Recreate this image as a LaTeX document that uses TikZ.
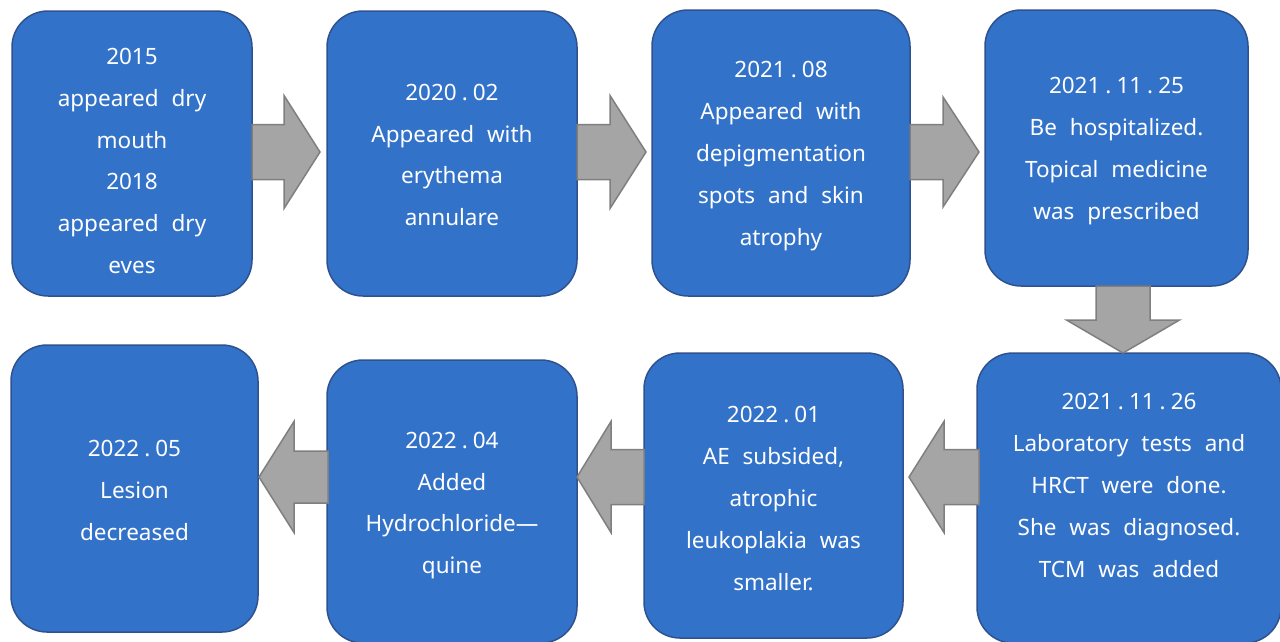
\documentclass[tikz,border=0pt]{standalone}
\usepackage{fontspec}
\setmainfont{Noto Sans}[WordSpace=2.2]
\definecolor{boxfill}{HTML}{3272C9}
\definecolor{boxline}{HTML}{2F528F}
\definecolor{arrfill}{HTML}{A5A5A5}
\definecolor{arrline}{HTML}{7F7F7F}
\newcommand{\pd}{\kern5pt.\kern5pt}
\begin{document}
\begin{tikzpicture}[x=1pt,y=-1pt,
  box/.style={draw=boxline, line width=1.5pt, fill=boxfill, rounded corners=36pt, inner sep=0pt},
  txt/.style={text=white, align=center, font=\fontsize{22.5}{41.8}\selectfont, inner sep=0pt},
  pics/barrow/.style n args={4}{code={
    \draw[draw=arrline, fill=arrfill, line width=1.5pt, line join=miter]
      (0,-#3) -- (#1,-#3) -- (#1,-#4) -- (#2,0) -- (#1,#4) -- (#1,#3) -- (0,#3) -- cycle;}}]
\useasboundingbox (0,0) rectangle (1280,641);
\clip (0,0) rectangle (1280,641);
% boxes
\node[box, minimum width=240pt, minimum height=285pt] (b1) at (132,153.5) {};
\node[box, minimum width=250pt, minimum height=285pt] (b2) at (452,153.5) {};
\node[box, minimum width=258pt, minimum height=286pt] (b3) at (781,153) {};
\node[box, minimum width=263pt, minimum height=276pt] (b4) at (1116.5,148) {};
\node[box, minimum width=304pt, minimum height=290pt] (b5) at (1129,498) {};
\node[box, minimum width=259pt, minimum height=285pt] (b6) at (773.5,495.5) {};
\node[box, minimum width=250pt, minimum height=283pt] (b7) at (452,501.5) {};
\node[box, minimum width=247pt, minimum height=287pt] (b8) at (134.5,488.5) {};
% texts
\node[txt] (t1) at (132,161) {2015\\appeared dry\\mouth\\2018\\appeared dry\\eves};
\node[txt] (t2) at (452,155) {2020\pd02\\Appeared with\\erythema\\annulare};
\node[txt] (t3) at (781,156) {2021\pd08\\Appeared with\\depigmentation\\spots and skin\\atrophy};
\node[txt] (t4) at (1116.5,151) {2021\pd11\pd25\\Be hospitalized.\\Topical medicine\\was prescribed};
\node[txt] (t5) at (1129,485.5) {2021\pd11\pd26\\Laboratory tests and\\HRCT were done.\\She was diagnosed.\\TCM was added};
\node[txt] (t6) at (773.5,498.5) {2022\pd01\\AE subsided,\\atrophic\\leukoplakia was\\smaller.};
\node[txt] (t7) at (452,505.5) {2022\pd04\\Added\\Hydrochloride—\\quine};
\node[txt] (t8) at (134.5,490.5) {2022\pd05\\Lesion\\decreased};
% block arrows
\pic (a1) at (252,152) {barrow={32}{68}{27.5}{56.5}};
\pic (a2) at (577,152) {barrow={33}{69}{27.5}{56.5}};
\pic (a3) at (910,152) {barrow={33}{69}{27.5}{55}};
\pic[rotate=-90] (a4) at (1123,286) {barrow={34}{67}{27}{56.5}};
\pic[rotate=180] (a5) at (979,477) {barrow={35}{70}{27.5}{55.5}};
\pic[rotate=180] (a6) at (644,477) {barrow={33}{67}{27.5}{55.5}};
\pic[rotate=180] (a7) at (328,477) {barrow={34}{69}{26}{55.5}};
\end{tikzpicture}
\end{document}
